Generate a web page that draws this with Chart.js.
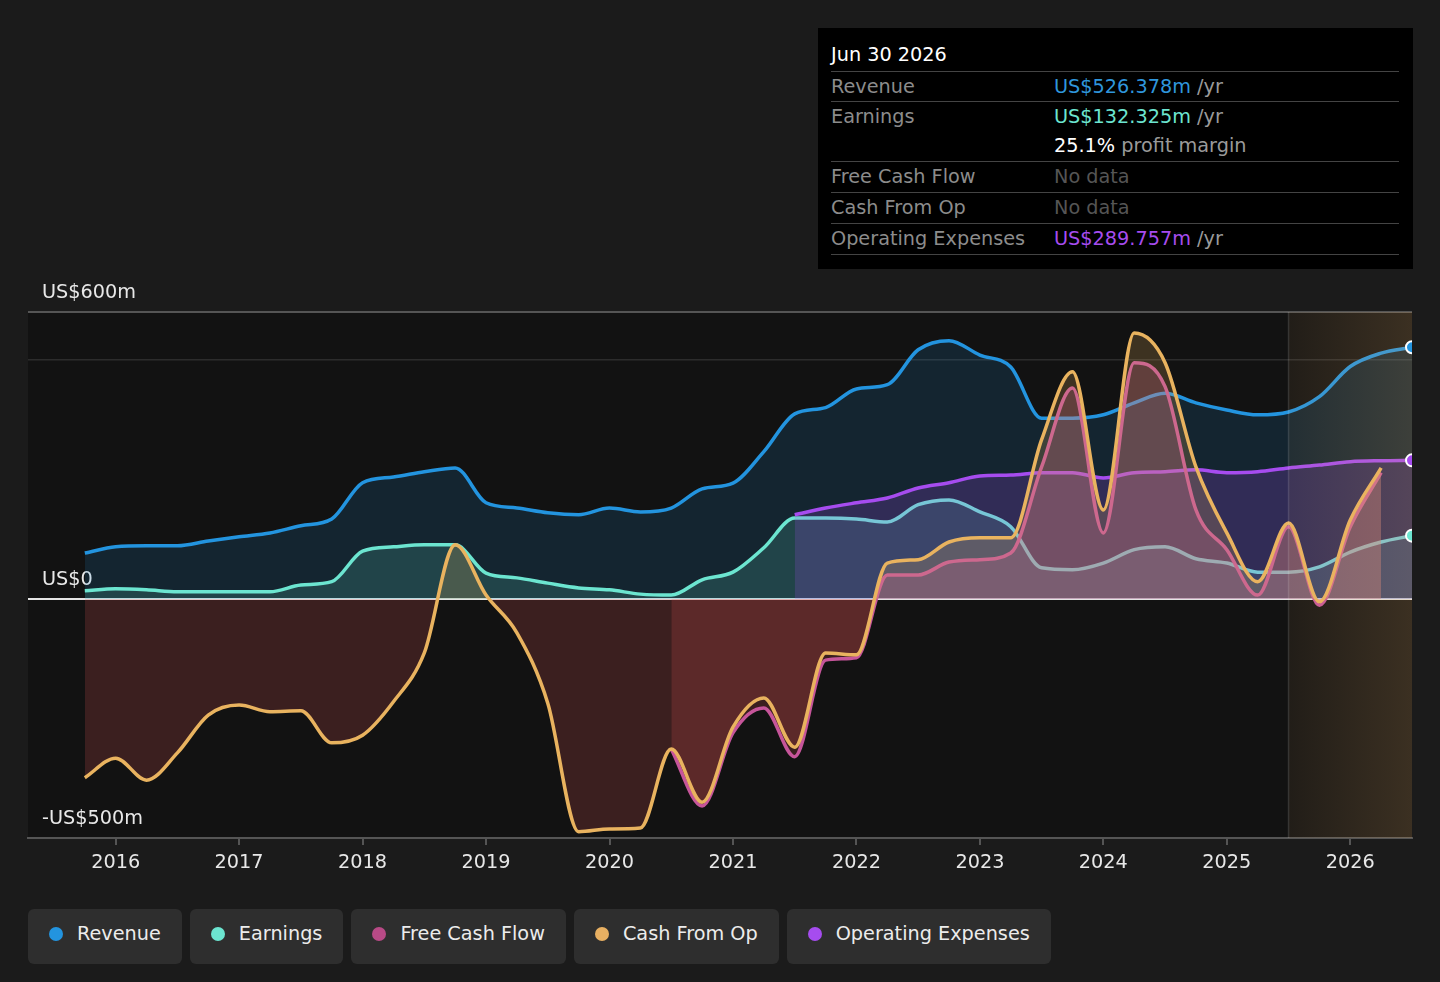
<!DOCTYPE html>
<html lang="en">
<head>
<meta charset="UTF-8" />
<title>Revenue, Earnings and Cash Flow</title>
<script src="https://cdn.jsdelivr.net/npm/chart.js"></script>
<style>
  body {
    margin: 0;
    width: 1440px;
    height: 982px;
    overflow: hidden;
    position: relative;
    background: #1b1b1b;
    font-family: "DejaVu Sans", sans-serif;
  }
  .chart-box {
    position: absolute;
    left: 0;
    top: 0;
    width: 1440px;
    height: 900px;
  }
  .tip {
    position: absolute;
    left: 818px;
    top: 28px;
    width: 595px;
    height: 241px;
    background: #000;
    box-sizing: border-box;
    padding: 0 14px 0 13px;
    font-size: 19.25px;
  }
  .tip .title {
    height: 44px;
    box-sizing: border-box;
    padding-top: 14px;
    line-height: 26px;
    color: #fff;
    border-bottom: 1px solid #444;
  }
  .tip .row {
    display: flex;
    border-bottom: 1px solid #444;
    line-height: 30px;
  }
  .tip .row.first { line-height: 29px; }
  .tip .row .name {
    width: 223px;
    color: #8c8c8c;
  }
  .tip .row .val { color: #9a9a9a; }
  .tip .row .val.nodata { color: #555; }
  .tip .unit { color: #9a9a9a; }
  .legend {
    position: absolute;
    left: 28px;
    top: 909px;
    display: flex;
    gap: 8px;
  }
  .legend .item {
    height: 55px;
    box-sizing: border-box;
    padding: 0 21px 6px 21px;
    background: #2e2e2e;
    border-radius: 6px;
    display: flex;
    align-items: center;
    color: #ececec;
    font-size: 19.25px;
  }
  .legend .dot {
    width: 14px;
    height: 14px;
    border-radius: 50%;
    margin-right: 14px;
  }
</style>
</head>
<body>
<div class="chart-box"><canvas id="chart"></canvas></div>

<div class="tip">
  <div class="title">Jun 30 2026</div>
  <div class="row first"><div class="name">Revenue</div><div class="val"><span style="color:#2f96dc">US$526.378m</span> <span class="unit">/yr</span></div></div>
  <div class="row first"><div class="name">Earnings</div><div class="val"><span style="color:#6ce5d0">US$132.325m</span> <span class="unit">/yr</span><br><span style="color:#fff;line-height:30px">25.1%</span> profit margin</div></div>
  <div class="row"><div class="name">Free Cash Flow</div><div class="val nodata">No data</div></div>
  <div class="row"><div class="name">Cash From Op</div><div class="val nodata">No data</div></div>
  <div class="row"><div class="name">Operating Expenses</div><div class="val"><span style="color:#a64cef">US$289.757m</span> <span class="unit">/yr</span></div></div>
</div>

<div class="legend">
  <div class="item"><span class="dot" style="background:#2394df"></span>Revenue</div>
  <div class="item"><span class="dot" style="background:#6ce5d0"></span>Earnings</div>
  <div class="item"><span class="dot" style="background:#b84a86"></span>Free Cash Flow</div>
  <div class="item"><span class="dot" style="background:#e8b062"></span>Cash From Op</div>
  <div class="item"><span class="dot" style="background:#a64cef"></span>Operating Expenses</div>
</div>

<script>
  // quarter ends as decimal years (Sep 2015 .. Jun 2026)
  const quarters = [
    2015.75,
    2016, 2016.25, 2016.5, 2016.75,
    2017, 2017.25, 2017.5, 2017.75,
    2018, 2018.25, 2018.5, 2018.75,
    2019, 2019.25, 2019.5, 2019.75,
    2020, 2020.25, 2020.5, 2020.75,
    2021, 2021.25, 2021.5, 2021.75,
    2022, 2022.25, 2022.5, 2022.75,
    2023, 2023.25, 2023.5, 2023.75,
    2024, 2024.25, 2024.5, 2024.75,
    2025, 2025.25, 2025.5, 2025.75,
    2026, 2026.25, 2026.5
  ];

  // values in US$m
  const revenue = [
    96,
    109, 111, 111, 121,
    130, 138, 153, 167,
    243, 255, 266, 274,
    201, 190, 180, 176,
    190, 182, 190, 230,
    242, 308, 387, 400,
    439, 448, 521, 540,
    510, 485, 378, 378,
    385, 410, 430, 410,
    395, 385, 391, 423,
    486, 514, 526.378
  ];

  const earnings = [
    17,
    21, 19, 15, 15,
    15, 15, 29, 36,
    100, 109, 113, 113,
    54, 44, 33, 23,
    19, 10, 8, 40,
    56, 107, 169, 169,
    167, 161, 197, 207,
    182, 151, 65, 61,
    75, 103, 109, 84,
    75, 56, 56, 67,
    98, 119, 132.325
  ];

  const freeCashFlow = [
    null,
    null, null, null, null,
    null, null, null, null,
    null, null, null, null,
    null, null, null, null,
    null, null, -314, -433,
    -280, -228, -330, -128,
    -123, 50, 50, 77,
    82, 96, 276, 441,
    138, 494, 444, 186,
    103, 8, 151, -13,
    151, 264, null
  ];

  const cashFromOp = [
    -374,
    -333, -379, -322, -243,
    -222, -236, -234, -301,
    -285, -215, -113, 113,
    8, -71, -218, -487,
    -481, -479, -314, -425,
    -268, -207, -310, -113,
    -117, 75, 82, 119,
    128, 128, 333, 475,
    186, 556, 494, 276,
    138, 36, 159, -6,
    165, 274, null
  ];

  const operatingExpenses = [
    null,
    null, null, null, null,
    null, null, null, null,
    null, null, null, null,
    null, null, null, null,
    null, null, null, null,
    null, null, 176, 190,
    201, 211, 232, 243,
    257, 259, 264, 264,
    253, 264, 266, 270,
    264, 266, 274, 280,
    287, 289, 289.757
  ];

  const yearTicks = [2016, 2017, 2018, 2019, 2020, 2021, 2022, 2023, 2024, 2025, 2026];
  const yTicks = [-500, 0, 500, 600];
  const yTickLabels = { "-500": "-US$500m", "0": "US$0", "500": "", "600": "US$600m" };
  const forecastStart = 2025.5;

  function points(values) {
    return quarters.map((q, i) => ({ x: q, y: values[i] }));
  }

  const negFill = "rgba(227,87,87,0.2)";

  Chart.defaults.font.family = "'DejaVu Sans', sans-serif";

  // dark plot background, forecast shading and end-of-series markers
  const plotDecor = {
    id: "plotDecor",
    beforeDraw(chart) {
      const { ctx, chartArea: a } = chart;
      ctx.save();
      ctx.fillStyle = "#121212";
      ctx.fillRect(a.left, a.top, a.width, a.height);
      ctx.restore();
    },
    afterDatasetsDraw(chart) {
      const { ctx, chartArea: a, scales } = chart;
      const x0 = scales.x.getPixelForValue(forecastStart);
      ctx.save();
      ctx.beginPath();
      ctx.rect(a.left, a.top, a.width, a.height);
      ctx.clip();

      const g = ctx.createLinearGradient(x0, 0, a.right, 0);
      g.addColorStop(0, "rgba(237,177,102,0.07)");
      g.addColorStop(1, "rgba(237,177,102,0.19)");
      ctx.fillStyle = g;
      ctx.fillRect(x0, a.top, a.right - x0, a.height);

      ctx.strokeStyle = "rgba(255,255,255,0.13)";
      ctx.lineWidth = 1.5;
      ctx.beginPath();
      ctx.moveTo(x0, a.top);
      ctx.lineTo(x0, a.bottom);
      ctx.stroke();

      chart.data.datasets.forEach((ds, i) => {
        if (!ds.endMarker) return;
        const meta = chart.getDatasetMeta(i);
        const pt = meta.data[meta.data.length - 1];
        ctx.beginPath();
        ctx.arc(pt.x, pt.y, 6, 0, Math.PI * 2);
        ctx.fillStyle = ds.borderColor;
        ctx.fill();
        ctx.lineWidth = 2;
        ctx.strokeStyle = "#fff";
        ctx.stroke();
      });
      ctx.restore();
    }
  };

  const common = {
    borderWidth: 3.5,
    pointRadius: 0,
    pointHoverRadius: 0,
    cubicInterpolationMode: "monotone"
  };

  new Chart(document.getElementById("chart"), {
    type: "line",
    data: {
      datasets: [
        {
          ...common,
          label: "Revenue",
          data: points(revenue),
          borderColor: "#2394df",
          fill: { target: "origin", above: "rgba(35,148,223,0.15)", below: "rgba(35,148,223,0.15)" },
          endMarker: true,
          order: 5
        },
        {
          ...common,
          label: "Earnings",
          data: points(earnings),
          borderColor: "#6ce5d0",
          fill: { target: "origin", above: "rgba(108,229,208,0.16)", below: "rgba(108,229,208,0.16)" },
          endMarker: true,
          order: 4
        },
        {
          ...common,
          label: "Operating Expenses",
          data: points(operatingExpenses),
          borderColor: "#a64cef",
          fill: { target: "origin", above: "rgba(166,76,239,0.2)", below: "rgba(166,76,239,0.2)" },
          endMarker: true,
          order: 3
        },
        {
          ...common,
          label: "Free Cash Flow",
          data: points(freeCashFlow),
          borderColor: "#c6559a",
          fill: { target: "origin", above: "rgba(198,85,154,0.25)", below: negFill },
          order: 2
        },
        {
          ...common,
          label: "Cash From Op",
          data: points(cashFromOp),
          borderColor: "#e9b35f",
          fill: { target: "origin", above: "rgba(233,179,95,0.2)", below: negFill },
          order: 1
        }
      ]
    },
    options: {
      responsive: true,
      maintainAspectRatio: false,
      animation: false,
      events: [],
      layout: { padding: { top: 312, left: 28, right: 28, bottom: 22 } },
      plugins: {
        legend: { display: false },
        tooltip: { enabled: false }
      },
      scales: {
        x: {
          type: "linear",
          min: 2015.29,
          max: 2026.5,
          afterBuildTicks: (s) => { s.ticks = yearTicks.map((v) => ({ value: v })); },
          afterFit: (s) => { s.height = 40; },
          grid: { drawOnChartArea: false, drawTicks: true, tickLength: 7, color: "#555", lineWidth: 2 },
          border: { display: true, color: "#555", width: 2 },
          ticks: {
            color: "#e8e8e8",
            font: { size: 19.25 },
            padding: 6,
            maxRotation: 0,
            autoSkip: false,
            callback: (v) => String(v)
          }
        },
        y: {
          min: -500,
          max: 600,
          afterBuildTicks: (s) => { s.ticks = yTicks.map((v) => ({ value: v })); },
          afterFit: (s) => { s.width = 0; },
          grid: {
            drawTicks: false,
            color: (c) => c.tick.value === 0 ? "#e4e4e4" : c.tick.value === 500 ? "#2c2c2c" : "#555",
            lineWidth: (c) => c.tick.value === 0 ? 2 : c.tick.value === 500 ? 1.5 : 2
          },
          border: { display: false },
          ticks: {
            mirror: true,
            padding: 14,
            labelOffset: -19,
            color: "#e8e8e8",
            font: { size: 19.25 },
            autoSkip: false,
            callback: (v) => yTickLabels[String(v)]
          }
        }
      }
    },
    plugins: [plotDecor]
  });
</script>
</body>
</html>
